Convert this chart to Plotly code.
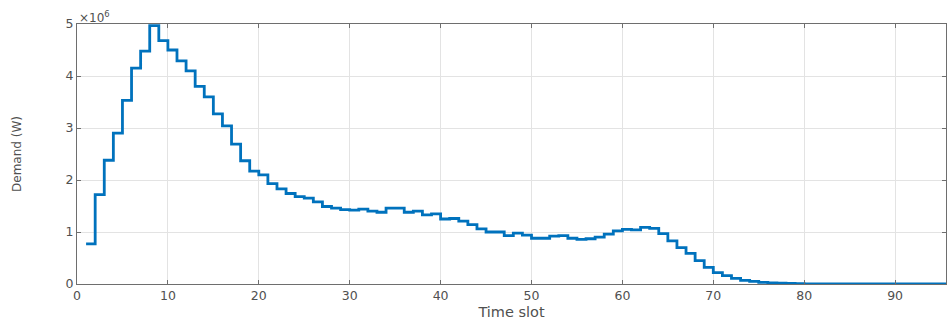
import plotly.graph_objects as go

# Time slots 1..96 and power demand per slot (in units of 1e6 W)
time_slot = list(range(1, 97))
demand_mw = [
    0.77, 1.72, 2.38, 2.90, 3.53, 4.15, 4.48, 4.97, 4.68, 4.50,
    4.29, 4.10, 3.80, 3.60, 3.27, 3.04, 2.69, 2.37, 2.17, 2.10,
    1.93, 1.83, 1.74, 1.68, 1.65, 1.58, 1.49, 1.46, 1.43, 1.42,
    1.44, 1.40, 1.38, 1.46, 1.46, 1.38, 1.40, 1.33, 1.35, 1.25,
    1.26, 1.21, 1.14, 1.06, 1.00, 1.00, 0.93, 0.98, 0.94, 0.88,
    0.88, 0.92, 0.93, 0.88, 0.86, 0.87, 0.90, 0.96, 1.02, 1.05,
    1.04, 1.09, 1.07, 0.97, 0.83, 0.70, 0.59, 0.45, 0.32, 0.22,
    0.16, 0.11, 0.07, 0.05, 0.03, 0.02, 0.015, 0.01, 0.005, 0.0,
    0.0, 0.0, 0.0, 0.0, 0.0, 0.0, 0.0, 0.0, 0.0, 0.0,
    0.0, 0.0, 0.0, 0.0, 0.0, 0.0,
]
demand_w = [v * 1e6 for v in demand_mw]

x_ticks = list(range(0, 100, 10))
y_ticks = [0, 1, 2, 3, 4, 5]

FONT = "DejaVu Sans, Arial, sans-serif"
TEXT = "#505050"
AXIS = "#6e6e6e"
GRID = "#e3e3e3"

fig = go.Figure()
fig.add_trace(go.Scatter(
    x=time_slot, y=demand_w, mode="lines",
    line=dict(color="#0072BD", width=2.8, shape="hv"),
    showlegend=False,
))

fig.update_layout(
    width=947, height=323,
    margin=dict(l=77, r=1, t=24, b=39),
    paper_bgcolor="white", plot_bgcolor="white",
    font=dict(family=FONT, size=12.5, color=TEXT),
    xaxis=dict(
        range=[0, 95.6], tickvals=x_ticks, ticktext=[str(t) for t in x_ticks],
        showgrid=True, gridcolor=GRID, gridwidth=1,
        showline=True, linecolor=AXIS, linewidth=1, mirror="ticks",
        ticks="inside", ticklen=4, tickcolor=AXIS,
        zeroline=False,
        title=dict(text="Time slot", font=dict(size=14.5, color=TEXT), standoff=4),
        tickfont=dict(size=12.5, color=TEXT),
    ),
    yaxis=dict(
        range=[0, 5e6], tickvals=[t * 1e6 for t in y_ticks],
        ticktext=[str(t) for t in y_ticks],
        showgrid=True, gridcolor=GRID, gridwidth=1,
        showline=True, linecolor=AXIS, linewidth=1, mirror="ticks",
        ticks="inside", ticklen=4, tickcolor=AXIS,
        zeroline=False,
        title=dict(text="Demand (W)", font=dict(size=12, color=TEXT), standoff=41),
        tickfont=dict(size=12.5, color=TEXT),
    ),
    annotations=[dict(
        text="×10<sup>6</sup>", xref="paper", yref="paper",
        x=0.0, y=1.0, xanchor="left", yanchor="bottom",
        showarrow=False, font=dict(size=12, color=TEXT), xshift=0, yshift=-3,
    )],
)

fig.write_html("out.html")
